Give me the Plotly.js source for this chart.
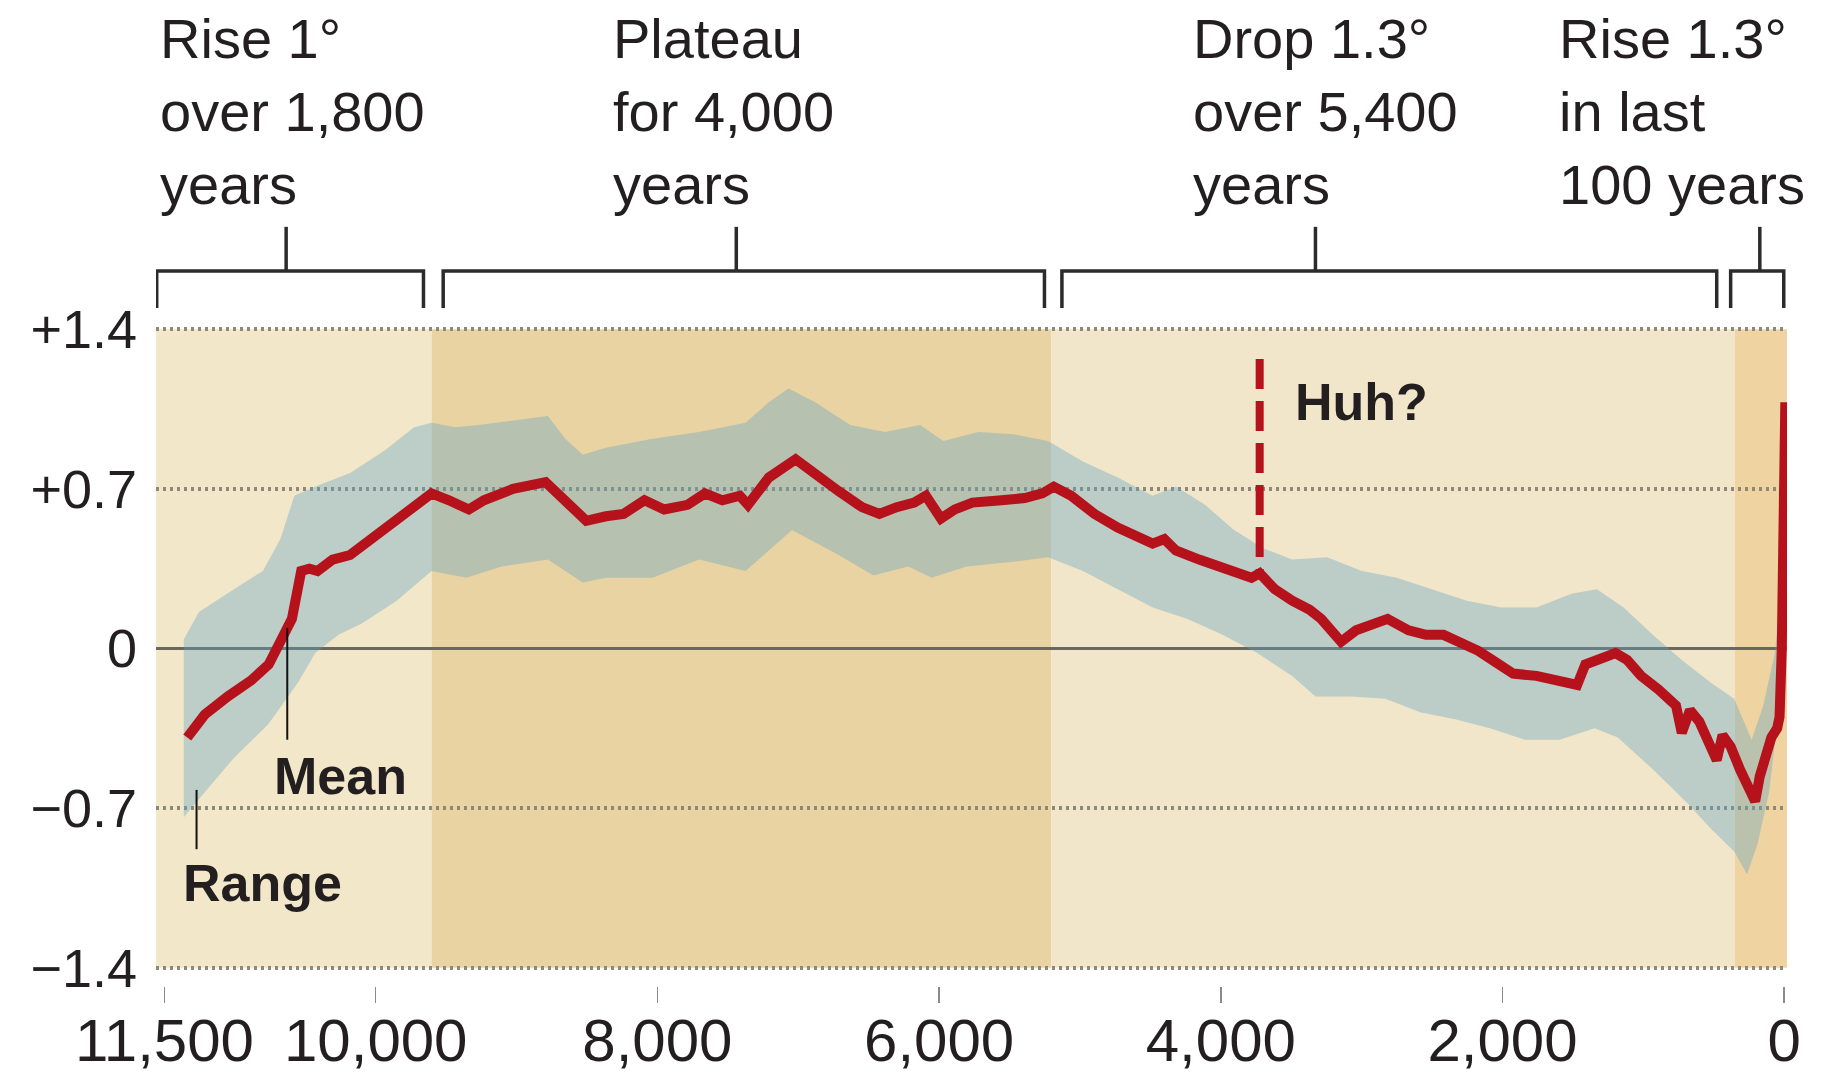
<!DOCTYPE html>
<html>
<head>
<meta charset="utf-8">
<script src="https://cdn.plot.ly/plotly-3.0.1.min.js"></script>
<style>
html,body{margin:0;padding:0;background:#ffffff;}
#chart{width:1825px;height:1077px;}
</style>
</head>
<body>
<div id="chart"></div>
<script>
// ---------- data (years before present, temperature anomaly °C) ----------
const meanYears = [11338,11214,11049,10884,10760,10677,10595,10529,10471,10413,10306,10182,10017,9851,9728,9604,9480,9339,9232,9026,8794,8695,8505,8365,8241,8092,7952,7787,7663,7539,7415,7357,7209,7019,6879,6713,6548,6424,6301,6177,6094,5987,5888,5764,5557,5392,5268,5186,5062,4897,4732,4608,4484,4401,4319,4154,4030,3906,3782,3724,3617,3493,3369,3287,3146,3039,2915,2816,2667,2543,2419,2296,2172,2048,1924,1759,1594,1470,1412,1305,1197,1115,1016,892,768,727,669,603,520,479,438,380,314,256,206,173,124,91,50,33,17,0,-8];
const meanTemp  = [-0.39,-0.29,-0.21,-0.14,-0.07,0.02,0.13,0.34,0.35,0.34,0.39,0.41,0.49,0.56,0.62,0.68,0.65,0.61,0.65,0.70,0.73,0.67,0.56,0.58,0.59,0.65,0.61,0.63,0.68,0.65,0.67,0.63,0.75,0.83,0.76,0.69,0.62,0.59,0.62,0.64,0.67,0.57,0.61,0.64,0.65,0.66,0.68,0.71,0.67,0.59,0.53,0.49,0.46,0.48,0.43,0.39,0.36,0.33,0.31,0.33,0.26,0.21,0.17,0.13,0.03,0.08,0.11,0.13,0.08,0.06,0.06,0.03,-0.01,-0.06,-0.11,-0.12,-0.14,-0.16,-0.07,-0.05,-0.02,-0.05,-0.12,-0.18,-0.25,-0.37,-0.27,-0.32,-0.45,-0.49,-0.38,-0.43,-0.53,-0.61,-0.67,-0.56,-0.47,-0.39,-0.35,-0.30,0.00,0.60,1.08];

const upperYears = [11363,11255,11007,10801,10677,10578,10429,10182,9934,9728,9604,9438,9273,9026,8778,8654,8530,8365,8035,7704,7374,7209,7069,6879,6631,6383,6135,5970,5723,5475,5227,4979,4732,4484,4319,4112,3906,3699,3493,3245,2998,2750,2502,2254,2007,1759,1511,1329,1140,933,727,520,355,231,149,66,17];
const upperTemp  = [0.04,0.16,0.26,0.34,0.48,0.67,0.71,0.77,0.87,0.97,0.99,0.97,0.98,1.00,1.02,0.92,0.85,0.88,0.92,0.95,0.99,1.08,1.14,1.08,0.98,0.95,0.98,0.91,0.95,0.94,0.91,0.82,0.75,0.67,0.71,0.63,0.52,0.44,0.39,0.40,0.34,0.31,0.26,0.21,0.18,0.18,0.24,0.26,0.18,0.06,-0.05,-0.15,-0.22,-0.40,-0.25,-0.02,0.30];

const lowerYears = [11363,11214,11007,10760,10553,10429,10264,10099,9851,9604,9356,9108,8778,8530,8365,8035,7704,7374,7044,6713,6466,6218,6053,5805,5475,5227,4979,4732,4484,4236,3988,3741,3493,3328,3080,2832,2585,2337,2089,1841,1594,1346,1181,933,685,520,355,264,190,107,41,17];
const lowerTemp  = [-0.74,-0.63,-0.48,-0.33,-0.15,-0.02,0.06,0.11,0.21,0.34,0.31,0.36,0.39,0.29,0.31,0.31,0.39,0.34,0.52,0.41,0.32,0.36,0.31,0.36,0.38,0.40,0.34,0.26,0.18,0.13,0.06,-0.02,-0.12,-0.21,-0.21,-0.22,-0.28,-0.31,-0.35,-0.40,-0.40,-0.35,-0.39,-0.53,-0.68,-0.79,-0.89,-0.99,-0.86,-0.63,-0.28,0.00];

const huhYear = 3724;
const huhTemps = [1.27, 0.33];

const xTickVals = [11500,10000,8000,6000,4000,2000,0];
const xTickText = ['11,500','10,000','8,000','6,000','4,000','2,000','0'];
const yTickVals = [-1.4,-0.7,0,0.7,1.4];
const yTickText = ['\u22121.4','\u22120.7','0','+0.7','+1.4'];

const periodLabels = ['Rise 1°<br>over 1,800<br>years','Plateau<br>for 4,000<br>years','Drop 1.3°<br>over 5,400<br>years','Rise 1.3°<br>in last<br>100 years'];
const periodStart = [11555,9521,5128,380];
const periodEnd   = [9661,5252,479,3];
const periodTick  = [10636,7440,3328,173];
const periodLabelYear = [11545,8330,4215,1612];

const shadeStart = [11560,9604,5202,350];
const shadeEnd   = [9604,5202,350,-20];
const shadeColors = ['#f3e7ca','#e9d3a3','#f2e6ca','#efd4a2'];

// ---------- styling ----------
const FONT = 'Liberation Sans, Arial, sans-serif';
const INK = '#231f20';
const RED = '#b5121b';

const bandX = upperYears.concat(lowerYears.slice().reverse());
const bandY = upperTemp.concat(lowerTemp.slice().reverse());

const traces = [
  {x: bandX, y: bandY, type: 'scatter', mode: 'lines', fill: 'toself',
   fillcolor: 'rgba(95,163,196,0.37)', line: {width: 0}, hoverinfo: 'skip', name: 'Range'},
  {x: meanYears, y: meanTemp, type: 'scatter', mode: 'lines',
   line: {color: RED, width: 10, shape: 'linear'}, name: 'Mean'},
  {x: [huhYear, huhYear], y: huhTemps, type: 'scatter', mode: 'lines',
   line: {color: RED, width: 8, dash: '30px,12px'}, name: 'Huh?'}
];

const shapes = [];
for (let i = 0; i < shadeStart.length; i++) {
  shapes.push({type: 'rect', xref: 'x', yref: 'y', x0: shadeStart[i], x1: shadeEnd[i],
    y0: -1.4, y1: 1.4, fillcolor: shadeColors[i], line: {width: 0}, layer: 'below'});
}
const yLine = 1.085, yEnd = 1.029, yTop = 1.152;
for (let i = 0; i < periodStart.length; i++) {
  shapes.push({type: 'path', xref: 'x', yref: 'paper',
    path: `M ${periodStart[i]},${yEnd} L ${periodStart[i]},${yLine} L ${periodEnd[i]},${yLine} L ${periodEnd[i]},${yEnd}`,
    line: {color: '#2b2b2b', width: 3.5}});
  shapes.push({type: 'line', xref: 'x', yref: 'paper', x0: periodTick[i], x1: periodTick[i],
    y0: yLine, y1: yTop, line: {color: '#2b2b2b', width: 3.5}});
}
// leader lines for the "Mean" and "Range" labels
shapes.push({type: 'line', xref: 'x', yref: 'y', x0: 10628, x1: 10628, y0: 0.09, y1: -0.40,
  line: {color: '#111', width: 2}, layer: 'above'});
shapes.push({type: 'line', xref: 'x', yref: 'y', x0: 11272, x1: 11272, y0: -0.62, y1: -0.88,
  line: {color: '#111', width: 2}, layer: 'above'});

const annotations = [];
for (let i = 0; i < periodLabels.length; i++) {
  annotations.push({text: periodLabels[i], xref: 'x', yref: 'paper', x: periodLabelYear[i], y: 1.327,
    xanchor: 'left', yanchor: 'middle', align: 'left', showarrow: false,
    font: {family: FONT, size: 56, color: INK}});
}
annotations.push({text: '<b>Mean</b>', xref: 'x', yref: 'y', x: 10735, y: -0.56,
  xanchor: 'left', yanchor: 'middle', showarrow: false, font: {family: FONT, size: 52, color: INK}});
annotations.push({text: '<b>Range</b>', xref: 'x', yref: 'y', x: 11380, y: -1.03,
  xanchor: 'left', yanchor: 'middle', showarrow: false, font: {family: FONT, size: 52, color: INK}});
annotations.push({text: '<b>Huh?</b>', xref: 'x', yref: 'y', x: 3490, y: 1.08,
  xanchor: 'left', yanchor: 'middle', showarrow: false, font: {family: FONT, size: 52, color: INK}});

const layout = {
  width: 1825, height: 1077,
  margin: {l: 156, r: 38, t: 327, b: 91, pad: 0},
  paper_bgcolor: '#ffffff', plot_bgcolor: '#ffffff',
  showlegend: false,
  xaxis: {range: [11560, -20], tickmode: 'array', tickvals: xTickVals, ticktext: xTickText,
    ticks: 'outside', ticklen: 16, tickwidth: 1.5, tickcolor: '#8a8a8a',
    showgrid: false, zeroline: false, showline: false,
    ticklabelstandoff: -14,
    tickfont: {family: FONT, size: 60, color: INK}},
  yaxis: {range: [-1.48, 1.41], tickmode: 'array', tickvals: yTickVals, ticktext: yTickText,
    ticks: '', showline: false,
    showgrid: true, gridcolor: '#8e8877', gridwidth: 4, griddash: '3px,4px',
    zeroline: true, zerolinecolor: '#6b675c', zerolinewidth: 3,
    ticklabelstandoff: 18,
    tickfont: {family: FONT, size: 54, color: INK}},
  shapes: shapes,
  annotations: annotations
};

Plotly.newPlot('chart', traces, layout, {staticPlot: true, displayModeBar: false});
</script>
</body>
</html>
